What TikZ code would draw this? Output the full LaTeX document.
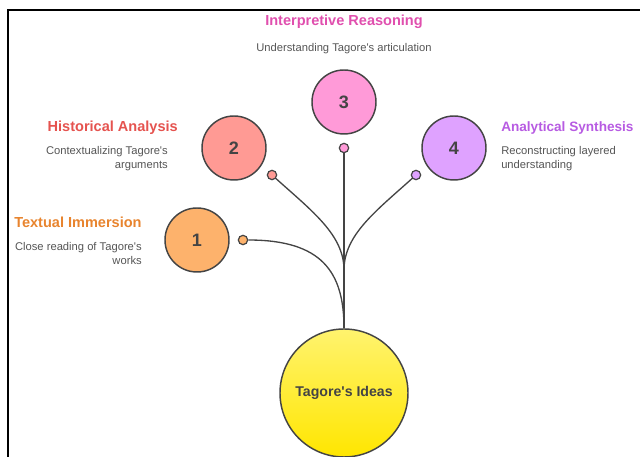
\documentclass[tikz,border=0pt]{standalone}
\usepackage{fontspec}
\setmainfont{Liberation Sans}[Ligatures=TeXOff]
\usetikzlibrary{positioning}

\definecolor{ink}{HTML}{444444}
\definecolor{txtgray}{HTML}{555555}
\definecolor{orangeT}{HTML}{E8842E}
\definecolor{redT}{HTML}{E5534F}
\definecolor{pinkT}{HTML}{E04FAE}
\definecolor{purpleT}{HTML}{B75BE2}
\definecolor{orangeF}{HTML}{FDB26C}
\definecolor{redF}{HTML}{FF9A94}
\definecolor{pinkF}{HTML}{FF9AD8}
\definecolor{purpleF}{HTML}{DFA2FF}
\definecolor{sunTop}{HTML}{FFF36E}
\definecolor{sunBot}{HTML}{FFE600}

\tikzset{
  stage/.style={circle, draw=ink, line width=1.1pt, minimum size=48pt, inner sep=0pt,
    font=\bfseries\fontsize{13.5}{13.5}\selectfont, text=ink},
  knob/.style={circle, draw=ink, line width=0.9pt, minimum size=7pt, inner sep=0pt},
  title/.style={font=\bfseries\fontsize{10.9}{12}\selectfont, inner sep=0pt},
  blurb/.style={font=\fontsize{8.4}{10.5}\selectfont, text=txtgray, inner sep=0pt},
  wire/.style={draw=ink, line width=1pt}
}

\begin{document}
\begin{tikzpicture}[x=0.75pt,y=0.75pt]
  \useasboundingbox (0,0) rectangle (640,457);
  % frame
  \draw[line width=1pt] (8,0) -- (8,447) -- (640,447);

  % centre
  \node[circle, draw=ink, line width=1.1pt, minimum size=96pt, inner sep=0pt,
    top color=sunTop, bottom color=sunBot,
    font=\bfseries\fontsize{10.6}{12}\selectfont, text=ink] (ideas) at (344,64) {Tagore's Ideas};

  % the four stages
  \node[stage, fill=orangeF] (s1) at (197,217) {1};
  \node[stage, fill=redF]    (s2) at (234,309) {2};
  \node[stage, fill=pinkF]   (s3) at (344,355) {3};
  \node[stage, fill=purpleF] (s4) at (454,309) {4};

  \node[knob, fill=orangeF] (k1) at (243,217) {};
  \node[knob, fill=redF]    (k2) at (272,282) {};
  \node[knob, fill=pinkF]   (k3) at (344,309) {};
  \node[knob, fill=purpleF] (k4) at (416,282) {};

  \coordinate (join) at (344,187);

  % wires into the centre
  \draw[wire] (k3) -- (ideas.north);
  \draw[wire] (k1) .. controls (322,217) and (344,185) .. (ideas.north);
  \draw[wire] (k2) .. controls (312,246) and (344,222) .. (join) -- (ideas.north);
  \draw[wire] (k4) .. controls (376,246) and (344,222) .. (join);

  % labels
  \node[title, text=orangeT, anchor=west] (t1) at (14,235) {Textual Immersion};
  \node[blurb, align=right, anchor=north east] (b1) at (142,215) {Close reading of Tagore's\\works};

  \node[title, text=redT, anchor=east] (t2) at (178,329) {Historical Analysis};
  \node[blurb, align=right, anchor=north east] (b2) at (168,311) {Contextualizing Tagore's\\arguments};

  \node[title, text=pinkT] (t3) at (344,435) {Interpretive Reasoning};
  \node[blurb] (b3) at (344,408) {Understanding Tagore's articulation};

  \node[title, text=purpleT, anchor=west, font=\bfseries\fontsize{10.2}{12}\selectfont] (t4) at (501,329) {Analytical Synthesis};
  \node[blurb, align=left, anchor=north west] (b4) at (501,311) {Reconstructing layered\\understanding};
\end{tikzpicture}
\end{document}
